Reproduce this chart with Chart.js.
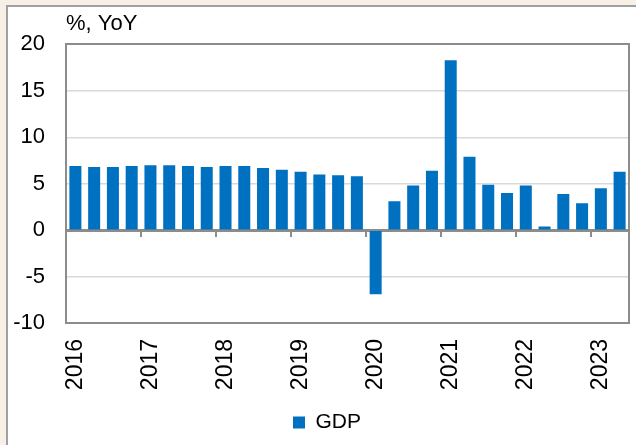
<!DOCTYPE html>
<html>
<head>
<meta charset="utf-8">
<script src="https://cdn.jsdelivr.net/npm/chart.js@4"></script>
<style>
  html, body { margin: 0; padding: 0; }
  body { background: #f8efe6; width: 636px; height: 445px; overflow: hidden; position: relative; }
  .panel { position: absolute; left: 6px; top: 5px; width: 660px; height: 470px; background: #fff;
           border-left: 2px solid #a0a0a0; border-top: 2px solid #a0a0a0; }
  canvas { position: absolute; left: 0; top: 0; }
</style>
</head>
<body>
<div class="panel"></div>
<canvas id="gdpChart" width="636" height="445"></canvas>
<script>
// quarters, 1Q16 .. 2Q23
const quarters = [
  "1Q16", "2Q16", "3Q16", "4Q16",
  "1Q17", "2Q17", "3Q17", "4Q17",
  "1Q18", "2Q18", "3Q18", "4Q18",
  "1Q19", "2Q19", "3Q19", "4Q19",
  "1Q20", "2Q20", "3Q20", "4Q20",
  "1Q21", "2Q21", "3Q21", "4Q21",
  "1Q22", "2Q22", "3Q22", "4Q22",
  "1Q23", "2Q23"
];

// GDP, % YoY
const gdp = [
  6.9, 6.8, 6.8, 6.9,
  7.0, 7.0, 6.9, 6.8,
  6.9, 6.9, 6.7, 6.5,
  6.3, 6.0, 5.9, 5.8,
  -6.9, 3.1, 4.8, 6.4,
  18.3, 7.9, 4.9, 4.0,
  4.8, 0.4, 3.9, 2.9,
  4.5, 6.3
];

// year labels shown under the first quarter of each year
const years = ["2016", "2017", "2018", "2019", "2020", "2021", "2022", "2023"];

const frameColor = "#8c8c8c";
const gridColor = "#d9d9d9";

Chart.defaults.font.family = "'Liberation Sans', Arial, sans-serif";
Chart.defaults.color = "#000";

const ctx = document.getElementById("gdpChart").getContext("2d");

new Chart(ctx, {
  type: "bar",
  data: {
    labels: quarters,
    datasets: [
      {
        label: "GDP",
        data: gdp,
        backgroundColor: "#0070c0",
        borderWidth: 0,
        barPercentage: 0.64,
        categoryPercentage: 1.0
      }
    ]
  },
  options: {
    responsive: false,
    animation: false,
    devicePixelRatio: 1,
    // negative right padding nudges the centred legend to the right
    layout: { padding: { left: 0, right: -18, top: 0, bottom: 2 } },
    plugins: {
      title: {
        display: true,
        text: "%, YoY",
        align: "start",
        fullSize: false,
        font: { size: 22, weight: "normal" },
        padding: { top: 11, bottom: 7 }
      },
      legend: {
        position: "bottom",
        labels: {
          boxWidth: 12,
          boxHeight: 12,
          padding: 10,
          font: { size: 21 }
        }
      },
      tooltip: { enabled: false }
    },
    scales: {
      x: {
        type: "category",
        position: "bottom",
        offset: true,
        grid: { display: false },
        border: { display: true, color: frameColor, width: 2 },
        ticks: {
          autoSkip: false,
          minRotation: 90,
          maxRotation: 90,
          padding: 8,
          font: { size: 23 },
          callback: function (val, i) {
            return i % 4 === 0 ? years[i / 4] : "";
          }
        },
        afterFit: function (scale) {
          scale.height = 79;
          scale.paddingLeft = 0;
          scale.paddingRight = 0;
        }
      },
      // zero line with year tick marks
      x2: {
        type: "category",
        position: { y: 0 },
        offset: true,
        grid: {
          offset: true,
          drawOnChartArea: false,
          drawTicks: true,
          tickLength: 5,
          lineWidth: 2,
          color: function (c) { return c.index % 4 === 0 ? frameColor : "rgba(0,0,0,0)"; }
        },
        border: { display: true, color: frameColor, width: 3 },
        ticks: { display: false }
      },
      y: {
        min: -10,
        max: 20,
        ticks: { stepSize: 5, padding: 21, font: { size: 22 } },
        grid: {
          drawTicks: false,
          color: function (c) {
            const v = c.tick.value;
            if (v === 0) return "rgba(0,0,0,0)";
            if (v === 20 || v === -10) return frameColor;
            return gridColor;
          },
          lineWidth: function (c) {
            const v = c.tick.value;
            return v === 20 || v === -10 ? 2 : 1.5;
          }
        },
        border: { display: true, color: frameColor, width: 2 },
        afterFit: function (scale) { scale.width = 66; }
      },
      y2: {
        position: "right",
        min: -10,
        max: 20,
        grid: { display: false },
        ticks: { display: false },
        border: { display: true, color: frameColor, width: 2 },
        afterFit: function (scale) { scale.width = 25; }
      }
    }
  }
});
</script>
</body>
</html>
